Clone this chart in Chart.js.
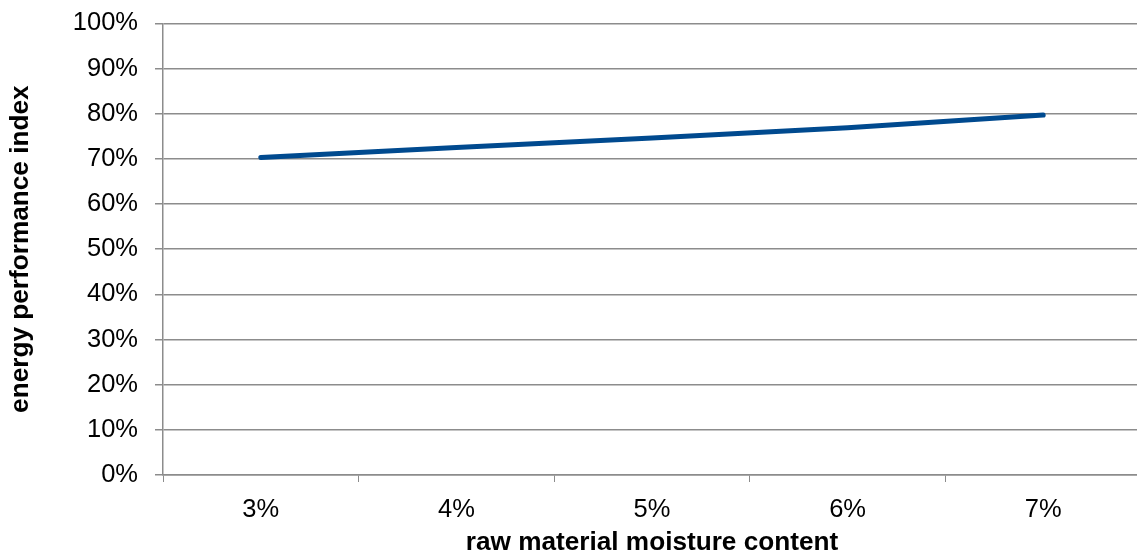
<!DOCTYPE html>
<html>
<head>
<meta charset="utf-8">
<script src="https://cdn.jsdelivr.net/npm/chart.js@4/dist/chart.umd.min.js"></script>
<style>
html,body{margin:0;padding:0;overflow:hidden;background:#fff;width:1137px;height:556px;}
#wrap{position:relative;width:1150px;height:556px;}
</style>
</head>
<body>
<div id="wrap"><canvas id="c"></canvas></div>
<script>
const categories = ['3%', '4%', '5%', '6%', '7%'];
const energyIndex = [70.3, 72.5, 74.6, 76.9, 79.7];
const yTickValues = [0, 10, 20, 30, 40, 50, 60, 70, 80, 90, 100];
const xTitle = 'raw material moisture content';
const yTitle = 'energy performance index';

const FONT = 'Arial, "Liberation Sans", sans-serif';
const GRID = '#8c8c8c';

new Chart(document.getElementById('c'), {
  type: 'line',
  data: {
    labels: categories,
    datasets: [{
      data: energyIndex,
      borderColor: '#004a8f',
      borderWidth: 5,
      borderCapStyle: 'round',
      borderJoinStyle: 'round',
      pointRadius: 0,
      tension: 0,
      fill: false
    }]
  },
  options: {
    responsive: true,
    maintainAspectRatio: false,
    animation: false,
    layout: { padding: { left: 0, right: 9, top: 22, bottom: 0 } },
    plugins: { legend: { display: false }, tooltip: { enabled: false } },
    scales: {
      x: {
        type: 'category',
        offset: true,
        grid: {
          offset: true,
          drawOnChartArea: false,
          drawTicks: true,
          tickLength: 7,
          color: GRID,
          lineWidth: 1
        },
        border: { display: true, color: GRID, width: 1.5 },
        ticks: { color: '#000', font: { family: FONT, size: 25.5 }, padding: 13, maxRotation: 0 },
        title: {
          display: true, text: xTitle, color: '#000',
          font: { family: FONT, size: 26.2, weight: 'bold', lineHeight: 1 },
          padding: { top: 0, bottom: 0 }
        },
        afterFit: s => { s.height = 81; }
      },
      y: {
        min: 0, max: 100,
        afterBuildTicks: s => { s.ticks = yTickValues.map(v => ({ value: v })); },
        grid: { color: GRID, lineWidth: 1.5, tickLength: 8, drawTicks: true },
        border: { display: true, color: GRID, width: 1.5 },
        ticks: {
          color: '#000', font: { family: FONT, size: 25.5, lineHeight: 0.5 }, padding: 17,
          callback: v => v + '%'
        },
        title: {
          display: true, text: yTitle, color: '#000',
          font: { family: FONT, size: 26.2, weight: 'bold', lineHeight: 1 },
          padding: { top: 8, bottom: 0 }
        },
        afterFit: s => { s.width = 163; }
      }
    }
  }
});
</script>
</body>
</html>
